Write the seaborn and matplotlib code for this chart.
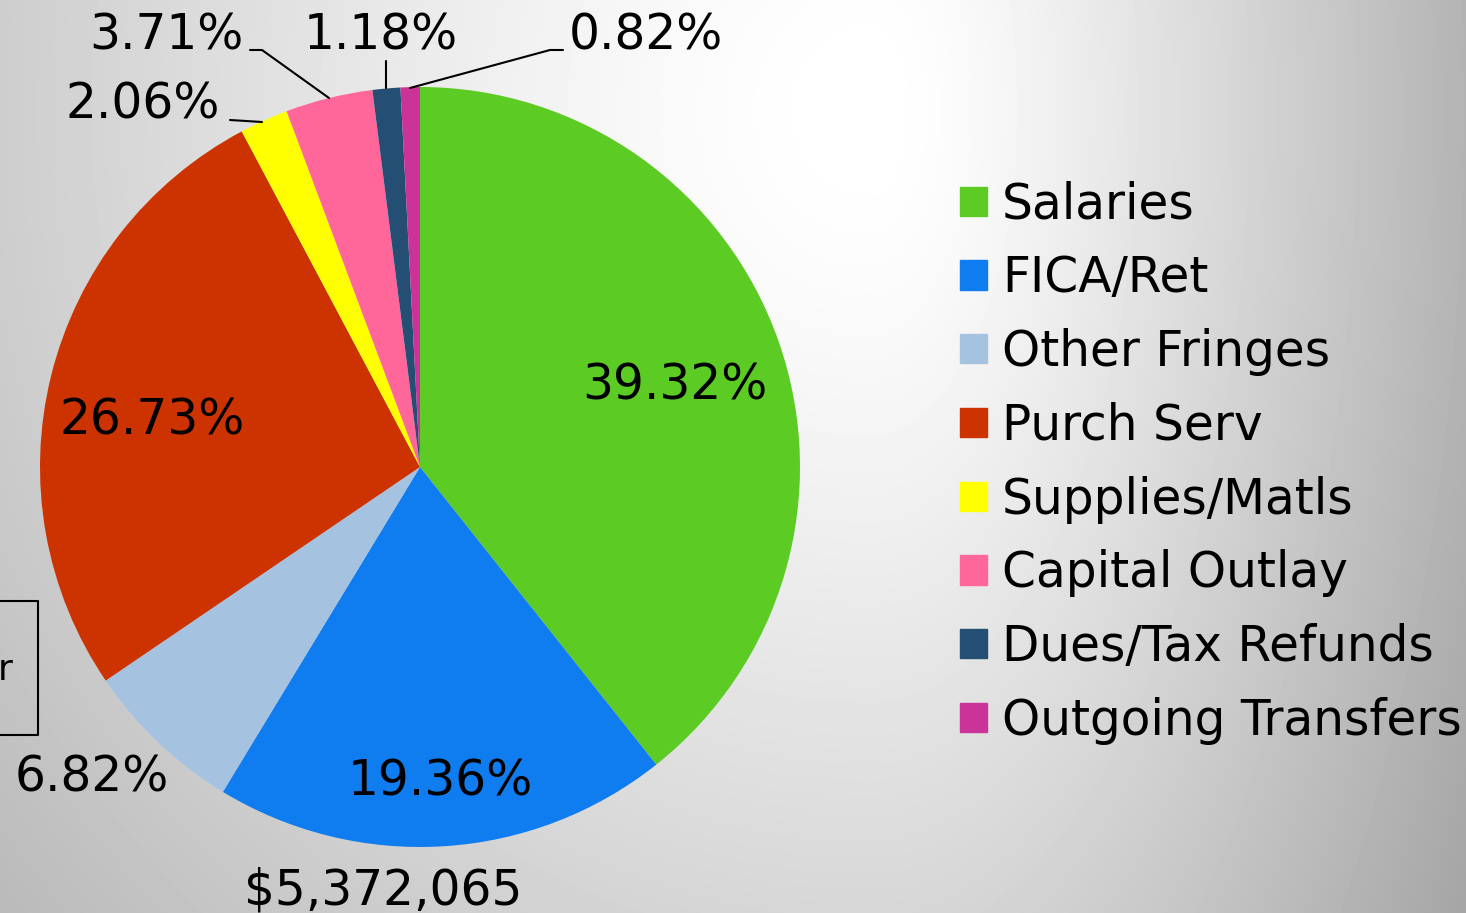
"""
Budget breakdown pie chart with legend on the right.
"""
import numpy as np
import matplotlib
matplotlib.use('Agg')
import matplotlib.pyplot as plt
import seaborn as sns

# Data
categories = ['Salaries', 'FICA/Ret', 'Other Fringes', 'Purch Serv',
              'Supplies/Matls', 'Capital Outlay', 'Dues/Tax Refunds',
              'Outgoing Transfers']
shares = [39.32, 19.36, 6.82, 26.73, 2.06, 3.71, 1.18, 0.82]
colors = ['#5ccb24', '#0f7cf0', '#a5c3e1', '#cc3300',
          '#ffff00', '#ff6699', '#254e75', '#cc3399']
total_label = '$5,372,065'

sns.set_style('white')
plt.rcParams['font.family'] = ['DejaVu Sans']
plt.rcParams['text.color'] = 'black'

W, H = 1466, 913
fig = plt.figure(figsize=(W / 100, H / 100), dpi=100)

# background gradient (light spot upper right, grey towards edges)
bg = fig.add_axes([0, 0, 1, 1], zorder=0)
yy, xx = np.mgrid[0:H, 0:W]
gx, gy = 870, 110
sx = np.where(xx < gx, 3950.0, 1920.0)
dist = np.sqrt(((xx - gx) / sx) ** 2 + ((yy - gy) / 4250.0) ** 2)
soft = np.sqrt(dist ** 2 + 0.06 ** 2) - 0.06
grey = np.clip(1.0 - 1.15 * soft, 0, 1)
bg.imshow(grey, cmap='gray', vmin=0, vmax=1, aspect='auto',
          extent=[0, W, H, 0])
bg.axis('off')

# pie axes in pixel-matched units (radius 1 = 380 px)
R = 380.0
cx, cy = 420, 467
ax = fig.add_axes([0, 0, 1, 1], zorder=1)
ax.patch.set_alpha(0)

wedges, _ = ax.pie(shares, colors=colors, startangle=90, counterclock=False,
                   radius=1.0, wedgeprops=dict(linewidth=0))
ax.set_aspect('auto')
ax.set_xlim(-cx / R, (W - cx) / R)
ax.set_ylim(-(H - cy) / R, cy / R)
ax.axis('off')

fs = 35
def px(x, y):
    return (x - cx) / R, (cy - y) / R

# inside labels
inside = {0: (675, 385), 1: (440, 782), 3: (152, 420)}
for i, (x, y) in inside.items():
    ax.text(*px(x, y), f'{shares[i]:.2f}%', fontsize=fs, ha='center',
            va='center', color='black')

# outside labels with leader lines
outside = {2: (92, 777), 4: (143, 104), 5: (166, 35), 6: (381, 35), 7: (646, 35)}
for i, (x, y) in outside.items():
    ax.text(*px(x, y), f'{shares[i]:.2f}%', fontsize=fs, ha='center',
            va='center', color='black')

leaders = [
    [(230, 120), (262, 122)],
    [(250, 50), (262, 50), (329, 98)],
    [(386, 61), (386, 88)],
    [(563, 50), (550, 50), (410, 88)],
]
for pts in leaders:
    xs, ys = zip(*[px(x, y) for x, y in pts])
    ax.plot(xs, ys, color='black', lw=1.5)

ax.text(*px(383, 890), total_label, fontsize=fs, ha='center', va='center',
        color='black')

# cut-off text box at the left edge
box = [(-5, 601), (38, 601), (38, 735), (-5, 735)]
bx, by = zip(*[px(x, y) for x, y in box])
ax.plot(bx, by, color='black', lw=1.5)
ax.text(*px(5, 670), 'r', fontsize=26, ha='center', va='center', color='black')

# legend
handles = [plt.Rectangle((0, 0), 1, 1, color=c) for c in colors]
leg = fig.legend(handles, categories, loc='upper left',
                 bbox_to_anchor=(941 / W, 1 - 161 / H), frameon=False,
                 fontsize=fs, handlelength=0.55, handleheight=0.55,
                 handletextpad=0.3, labelspacing=0.53, borderaxespad=0,
                 labelcolor='black')

fig.savefig('out.png', dpi=100)
